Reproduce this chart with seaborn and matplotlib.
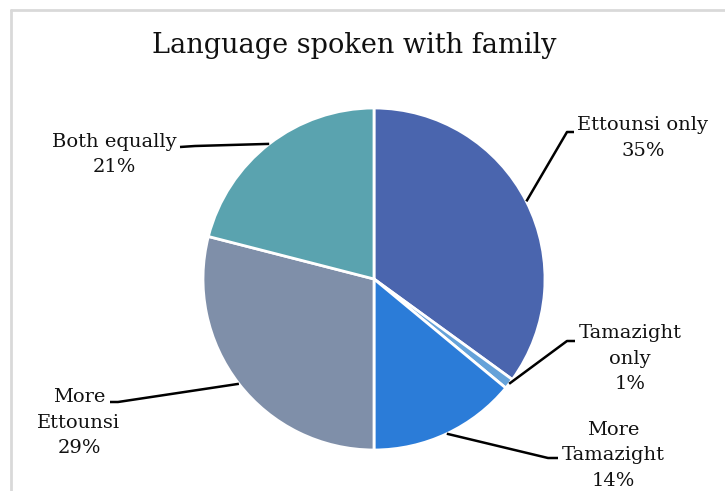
import numpy as np
import matplotlib
matplotlib.use("Agg")
import matplotlib.pyplot as plt
from matplotlib.lines import Line2D
import seaborn as sns

# Survey answers, clockwise from 12 o'clock
categories = ["Ettounsi only", "Tamazight only", "More Tamazight", "More Ettounsi", "Both equally"]
label_text = ["Ettounsi only", "Tamazight\nonly", "More\nTamazight", "More\nEttounsi", "Both equally"]
shares = [35, 1, 14, 29, 21]
slice_colors = ["#4A65AE", "#65A2D9", "#2B7CD8", "#7F8FA9", "#5AA3AF"]

TITLE = "Language spoken with family"

sns.set_theme(style="white")
plt.rcParams["font.family"] = ["DejaVu Serif", "DejaVu Sans"]

W, H = 725, 491
fig = plt.figure(figsize=(W / 100, H / 100), dpi=100)
ax = fig.add_axes([0, 0, 1, 1])

# light chart-area frame: top and left edges only
fy = 1 - 10 / H
fx = 10.5 / W
fig.lines.append(Line2D([fx, 1.0], [fy, fy], transform=fig.transFigure,
                        color="#D9D9D9", lw=2))
fig.lines.append(Line2D([fx, fx], [0, fy], transform=fig.transFigure,
                        color="#D9D9D9", lw=2))

cx, cy, r = 374, 279, 171

# y axis is inverted, so counterclock=True draws clockwise on screen
wedges, _ = ax.pie(shares, colors=slice_colors, startangle=-90, counterclock=True,
                   center=(cx, cy), radius=r, frame=True,
                   wedgeprops=dict(edgecolor="white", linewidth=2))
ax.set_xlim(0, W)
ax.set_ylim(H, 0)
ax.set_aspect("equal")
ax.axis("off")

# label anchor (text centre x, first line centre y), leader elbow, leader end
layout = [
    dict(tx=643, ty=125, elbow=(567, 132), end=(574, 132)),
    dict(tx=630, ty=333, elbow=(567, 341), end=(575, 341)),
    dict(tx=613, ty=430, elbow=(548, 458), end=(558, 458)),
    dict(tx=79, ty=397, elbow=(118, 402), end=(110, 402)),
    dict(tx=114, ty=142, elbow=(195, 146), end=(180, 147)),
]

fs = 14
line_h = 25.5
total = sum(shares)
cum = 0
for name, txt, val, lay in zip(categories, label_text, shares, layout):
    mid = (cum + val / 2) / total * 2 * np.pi
    cum += val
    # point on the rim at the slice's mid angle (screen coords, y down)
    px = cx + r * np.sin(mid)
    py = cy - r * np.cos(mid)
    ex, ey = lay["elbow"]
    lx, ly = lay["end"]
    ax.plot([px, ex, lx], [py, ey, ly], color="black", lw=1.8, solid_capstyle="butt")
    lines = txt.split("\n") + [f"{val}%"]
    for i, ln in enumerate(lines):
        ax.text(lay["tx"], lay["ty"] + i * line_h, ln, ha="center", va="center",
                fontsize=fs, color="#111111")

ax.text(354, 45, TITLE, ha="center", va="center", fontsize=19.5, color="#111111")

fig.savefig("out.png", dpi=100, facecolor="white")
